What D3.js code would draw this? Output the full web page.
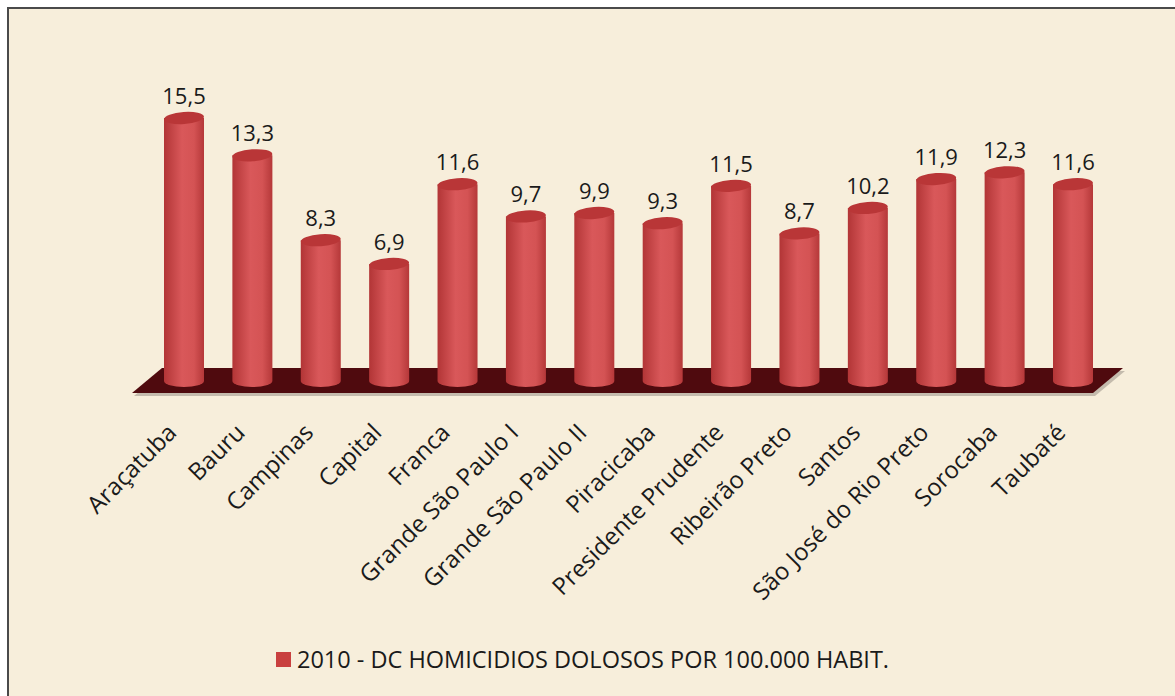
<!DOCTYPE html>
<html>
<head>
<meta charset="utf-8">
<script src="https://cdn.jsdelivr.net/npm/d3@7.9.0/dist/d3.min.js"></script>
<style>
  body { margin: 0; background: #fff; }
  svg { display: block; }
  text { font-family: "Open Sans", Lato, sans-serif; fill: #1a1a1a; }
</style>
</head>
<body>
<svg width="1175" height="696"></svg>
<script>
const categories = ["Araçatuba", "Bauru", "Campinas", "Capital", "Franca", "Grande São Paulo I",
  "Grande São Paulo II", "Piracicaba", "Presidente Prudente", "Ribeirão Preto", "Santos",
  "São José do Rio Preto", "Sorocaba", "Taubaté"];
const values = [15.5, 13.3, 8.3, 6.9, 11.6, 9.7, 9.9, 9.3, 11.5, 8.7, 10.2, 11.9, 12.3, 11.6];
const seriesName = "2010 - DC HOMICIDIOS DOLOSOS POR 100.000 HABIT.";

const fmt = v => d3.format(".1f")(v).replace(".", ",");
const data = categories.map((c, i) => ({ label: c, value: values[i] }));

const svg = d3.select("svg");

// background + frame
svg.append("rect").attr("x", 8).attr("y", 8).attr("width", 1180).attr("height", 700)
  .attr("fill", "#f7eedb").attr("stroke", "#4a4a4a").attr("stroke-width", 2);

const x = d3.scalePoint().domain(categories).range([184, 1073]);
const y = d3.scaleLinear().domain([0, 15.5]).range([381, 118]);

const defs = svg.append("defs");
const grad = defs.append("linearGradient").attr("id", "body");
grad.append("stop").attr("offset", "0%").attr("stop-color", "#b23536");
grad.append("stop").attr("offset", "45%").attr("stop-color", "#d9585a");
grad.append("stop").attr("offset", "75%").attr("stop-color", "#d45354");
grad.append("stop").attr("offset", "100%").attr("stop-color", "#b53839");

// floor
const fl = { top: 368, bot: 393, x0: 132, x1: 1093, skew: 30 };
svg.append("path")
  .attr("d", `M${fl.x0 + 2},${fl.bot + 3} L${fl.x0 + fl.skew + 2},${fl.top + 3} L${fl.x1 + fl.skew + 2},${fl.top + 3} L${fl.x1 + 2},${fl.bot + 3} Z`)
  .attr("fill", "#a29a8e").attr("opacity", 0.6);
svg.append("path")
  .attr("d", `M${fl.x0},${fl.bot} L${fl.x0 + fl.skew},${fl.top} L${fl.x1 + fl.skew},${fl.top} L${fl.x1},${fl.bot} Z`)
  .attr("fill", "#4f0a0e");

const rx = 20, ry = 6;
const bars = svg.append("g").selectAll("g").data(data).join("g");

bars.append("path")
  .attr("d", d => {
    const cx = x(d.label), yt = y(d.value), yb = y(0);
    return `M${cx - rx},${yt} L${cx - rx},${yb} A${rx},${ry} 0 0 0 ${cx + rx},${yb} L${cx + rx},${yt} Z`;
  })
  .attr("fill", "url(#body)");

bars.append("ellipse")
  .attr("cx", d => x(d.label)).attr("cy", d => y(d.value))
  .attr("rx", rx).attr("ry", ry)
  .attr("transform", d => `rotate(-4 ${x(d.label)} ${y(d.value)})`)
  .attr("fill", "#b93637");

bars.append("text")
  .attr("x", d => x(d.label)).attr("y", d => y(d.value) - 14)
  .attr("text-anchor", "middle").attr("font-size", 22)
  .text(d => fmt(d.value));

// category labels
svg.append("g").selectAll("text").data(data).join("text")
  .attr("text-anchor", "end").attr("font-size", 24)
  .attr("transform", d => `translate(${x(d.label) - 6},${434}) rotate(-45)`)
  .text(d => d.label);

// legend
const lg = svg.append("g").attr("transform", "translate(276,652)");
lg.append("rect").attr("width", 15).attr("height", 15).attr("fill", "#c9403f");
lg.append("text").attr("x", 21).attr("y", 15.5).attr("font-size", 23.5).text(seriesName);
</script>
</body>
</html>
